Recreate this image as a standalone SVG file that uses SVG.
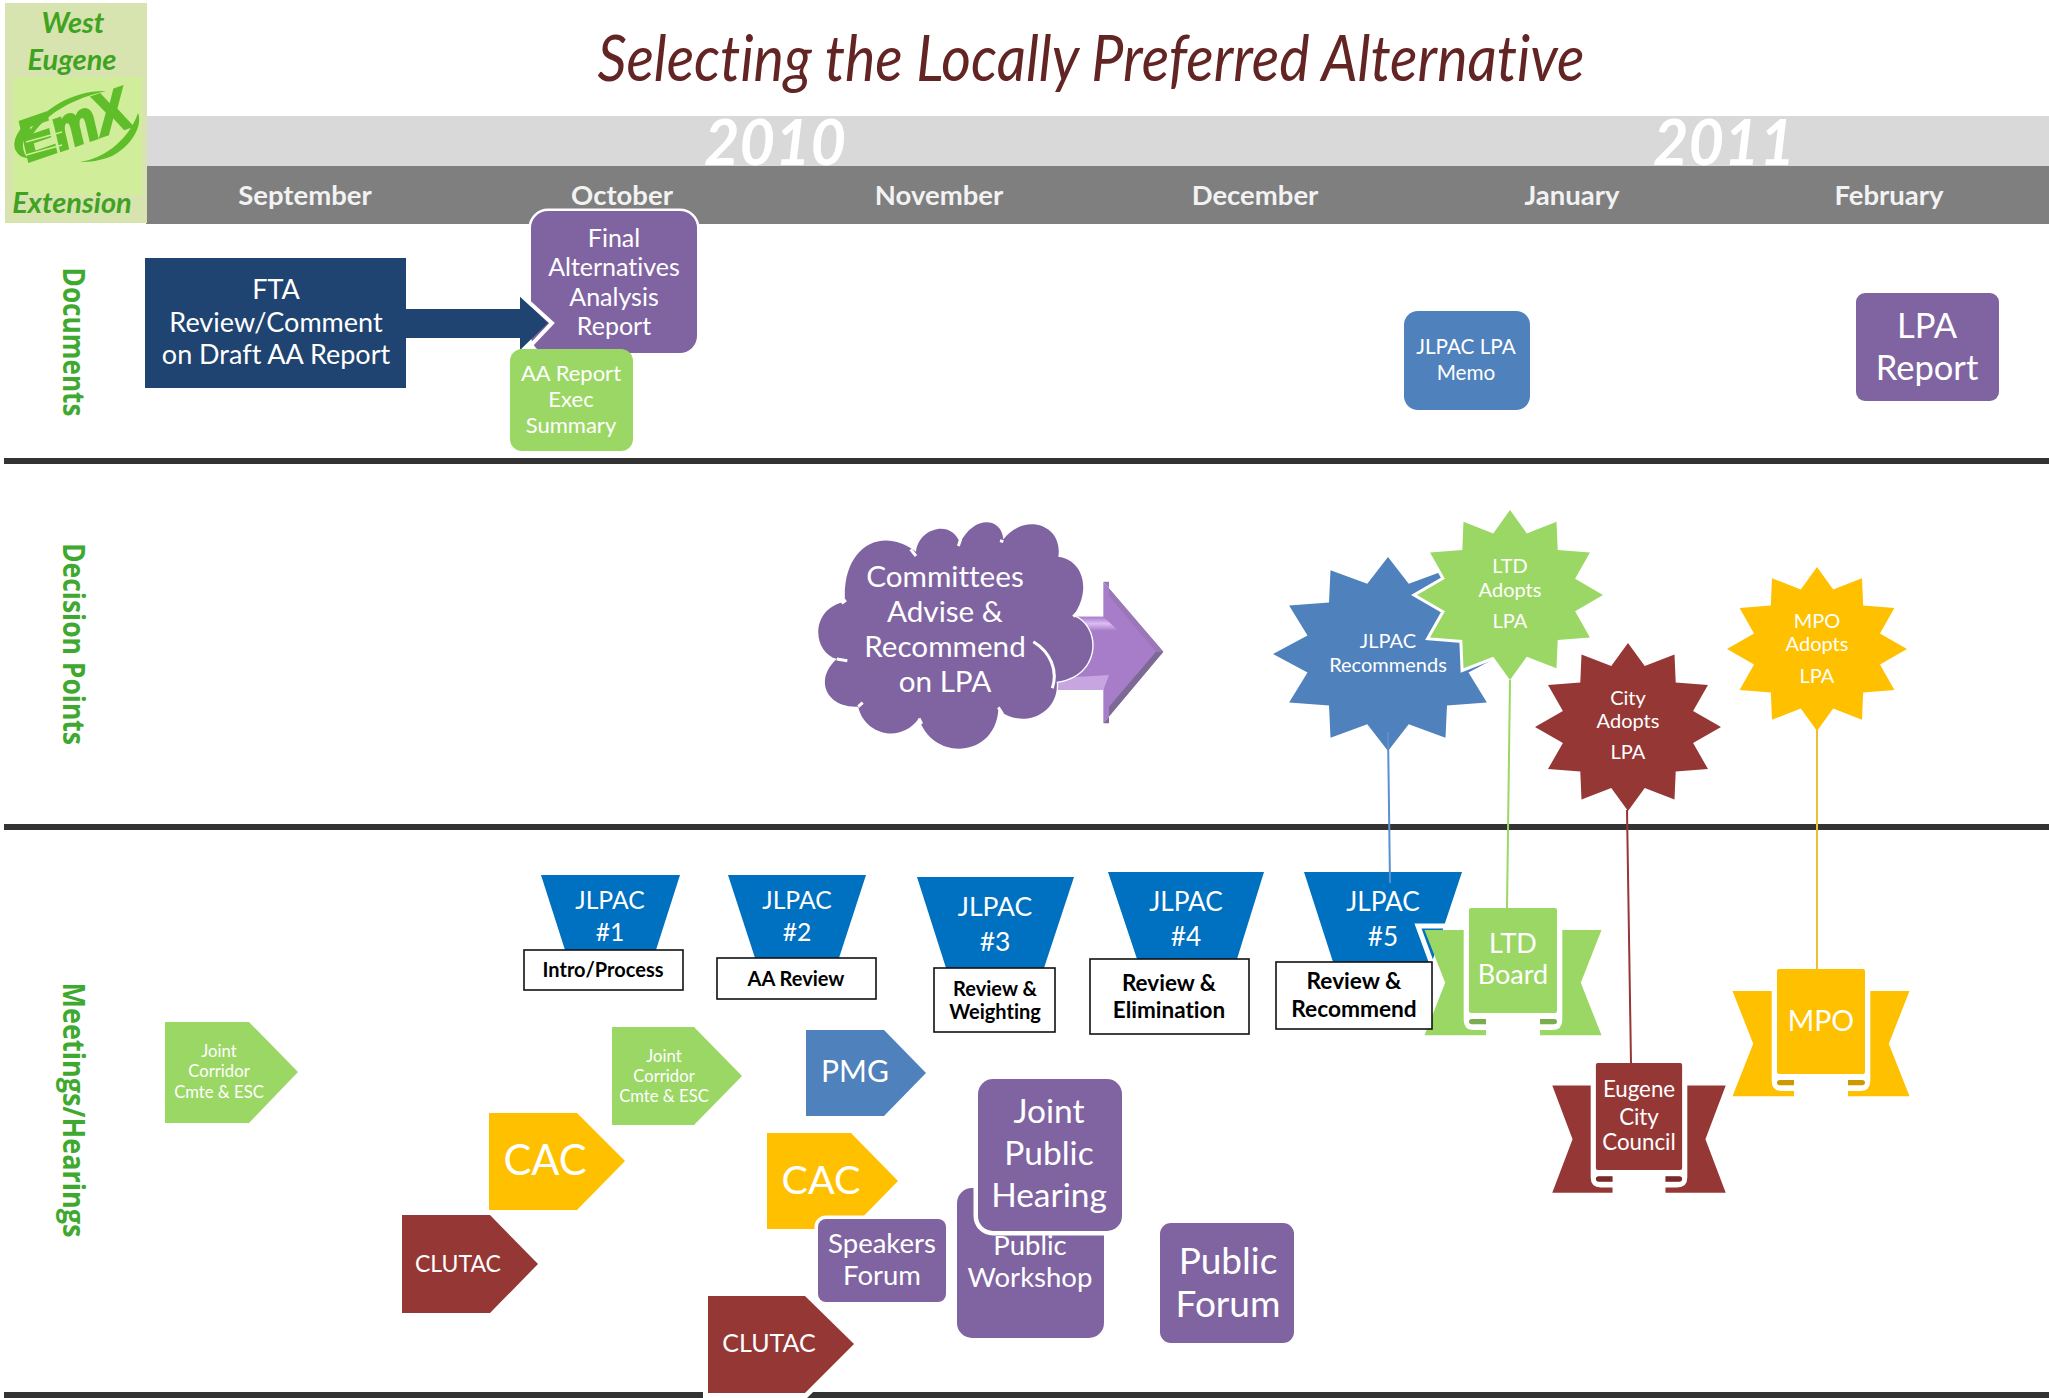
<svg xmlns="http://www.w3.org/2000/svg" xmlns:xlink="http://www.w3.org/1999/xlink" width="2049" height="1398" viewBox="0 0 2049 1398">
<style>
text{font-family:Lato,"Open Sans",sans-serif;text-anchor:middle;fill:#fff;font-variant-ligatures:none}
.b{fill:#000;font-weight:700}
.m{font-weight:700;font-size:27.5px;fill:#f2f2f2}
.g{fill:#3fa31f;font-weight:700;font-style:italic;font-size:29px}
.s{font-family:"Open Sans",sans-serif;fill:#3fa92f;font-weight:700;font-size:30px}
.y{font-weight:700;font-style:italic;font-size:64px}
.sep{fill:#333}
.p{fill:#8064a2}.v{fill:#9bd765}.bl{fill:#4f81bd}.o{fill:#ffc000}.r{fill:#953735}.t{fill:#0070c0}
.box{fill:#fff;stroke:#111;stroke-width:1.6}
.w{stroke:#fff;paint-order:stroke}
.c{fill:none;stroke-width:2}
</style>
<defs>
<polygon id="star" points="0,-1 .18,-.725 .5,-.863 .513,-.53 .86,-.5 .7,-.19 1,0 .7,.19 .86,.5 .513,.53 .5,.863 .18,.725 0,1 -.18,.725 -.5,.863 -.513,.53 -.86,.5 -.7,.19 -1,0 -.7,-.19 -.86,-.5 -.513,-.53 -.5,-.863 -.18,-.725" vector-effect="non-scaling-stroke"/>
<g id="ribbon">
<path d="M-88.5,22H-49.3V112Q-49.3,122-39,122H-27V127.3H-88.5L-67.8,74.7Z"/>
<path d="M88.5,22H49.3V112Q49.3,122 39,122H27V127.3H88.5L67.8,74.7Z"/>
<rect x="-44" y="0" width="88" height="105" rx="2"/>
<path d="M-27,111H-41Q-44,111-44,113.5Q-44,116.3-41,116.3H-27ZM27,111H41Q44,111 44,113.5Q44,116.3 41,116.3H27Z"/>
<path d="M-27,111H-41Q-44,111-44,113.5Q-44,116.3-41,116.3H-27ZM27,111H41Q44,111 44,113.5Q44,116.3 41,116.3H27Z" fill="#000" opacity=".2"/>
</g>
<linearGradient id="shaft" x1="0" y1="0" x2="0" y2="1"><stop offset="0" stop-color="#a77dc9"/><stop offset=".5" stop-color="#dcbcf4"/><stop offset="1" stop-color="#a77dc9"/></linearGradient>
</defs>

<g id="header">
<rect x="146" y="116" width="1903" height="50" fill="#d9d9d9"/>
<rect x="146" y="166" width="1903" height="58" fill="#7f7f7f"/>
<text x="775" y="165" class="y" textLength="142" lengthAdjust="spacingAndGlyphs">2010</text>
<text x="1724" y="165" class="y" textLength="142" lengthAdjust="spacingAndGlyphs">2011</text>
<text x="305" y="205" class="m">September</text>
<text x="622" y="205" class="m">October</text>
<text x="939" y="205" class="m">November</text>
<text x="1255" y="205" class="m">December</text>
<text x="1572" y="205" class="m">January</text>
<text x="1889" y="205" class="m">February</text>
<text x="1091" y="81" font-size="64" font-style="italic" style="fill:#632523" textLength="987" lengthAdjust="spacingAndGlyphs">Selecting the Locally Preferred Alternative</text>
</g>

<g id="logo">
<rect x="5" y="3" width="142" height="220" fill="#d7e4b0"/>
<rect x="13" y="77" width="129" height="118" fill="#d0ee9a"/>
<path d="M106,91C75,90 42,108 28,134L33,134C48,112 75,98 106,91Z" fill="#5fbe2a"/>
<path d="M35,116C18,127 11,142 16,151C19,156 23,158 28,158C20,150 21,134 35,116Z" fill="#5fbe2a"/>
<path d="M80,162C107,158 130,137 138,113C143,125 132,146 112,156C100,161 90,162 80,162Z" fill="#5fbe2a"/>
<text transform="translate(27,162) rotate(-19) skewX(-6)" x="55" y="0" font-size="58" font-weight="700" stroke="#5fbe2a" stroke-width="3" style="font-family:'Liberation Sans',sans-serif;fill:#5fbe2a" textLength="112" lengthAdjust="spacingAndGlyphs">EmX</text>
<path d="M26,142L62,132M26,155L62,145" stroke="#d0ee9a" stroke-width="1.500" fill="none"/>
<text x="73" y="33" class="g">West</text>
<text x="72" y="70" class="g">Eugene</text>
<text x="72" y="213" class="g">Extension</text>
</g>

<g id="rows">
<text transform="translate(63,342) rotate(90)" class="s" textLength="149" lengthAdjust="spacingAndGlyphs">Documents</text>
<text transform="translate(63,644) rotate(90)" class="s" textLength="202" lengthAdjust="spacingAndGlyphs">Decision Points</text>
<text transform="translate(63,1110) rotate(90)" class="s" textLength="255" lengthAdjust="spacingAndGlyphs">Meetings/Hearings</text>
<rect x="4" y="458" width="2045" height="6" class="sep"/>
<rect x="4" y="824" width="2045" height="6" class="sep"/>
<rect x="4" y="1392" width="2045" height="6" class="sep"/>
</g>

<g id="final-aa">
<rect x="531" y="211" width="166" height="142" rx="17" class="p w" stroke-width="5"/>
<text x="614" y="247" font-size="25">Final</text><text x="614" y="276" font-size="25">Alternatives</text><text x="614" y="306" font-size="25">Analysis</text><text x="614" y="335" font-size="25">Report</text>
</g>
<g id="fta">
<path d="M145,258H406V309H520V296L548,323L520,350V338H406V388H145Z" fill="#1f4471"/>
<path d="M520,294L552,323L517,360" fill="none" stroke="#fff" stroke-width="4"/>
<text x="276" y="299" font-size="27">FTA</text><text x="276" y="332" font-size="27">Review/Comment</text><text x="276" y="364" font-size="27">on Draft AA Report</text>
</g>
<g id="aa-exec">
<rect x="510" y="349" width="123" height="102" rx="12" class="v"/>
<text x="571" y="381" font-size="22">AA Report</text><text x="571" y="407" font-size="22">Exec</text><text x="571" y="433" font-size="22">Summary</text>
</g>
<g id="jlpac-memo">
<rect x="1404" y="311" width="126" height="99" rx="14" class="bl"/>
<text x="1466" y="354" font-size="20.700">JLPAC LPA</text><text x="1466" y="380" font-size="20.700">Memo</text>
</g>
<g id="lpa-report">
<rect x="1856" y="293" width="143" height="108" rx="9" class="p"/>
<text x="1927" y="338" font-size="34.500">LPA</text><text x="1927" y="380" font-size="34.500">Report</text>
</g>

<g id="lpa-arrow" transform="translate(810,510) scale(.33333)">
<path d="M700,320H880V215L1060,425L880,640V535H700Z" fill="#a77dc9"/>
<path d="M880,215L1060,425H1038L897,258V215Z" fill="#9a78b8"/>
<path d="M880,640L1060,425H1038L897,590V640Z" fill="#7d6a94"/>
<path d="M780,320H880L925,362H780Z" fill="url(#shaft)"/>
<path d="M740,505L897,495L880,540H740Z" fill="#c6a5e0"/>
</g>
<g id="cloud" transform="translate(810,510) scale(.33333)">
<path d="M105,275C95,115 210,45 318,125C325,55 425,25 450,100C490,15 575,20 580,88C645,5 760,45 745,140C820,150 845,240 790,318C875,350 870,500 740,515C750,610 640,660 565,600C555,745 365,755 327,625C270,705 160,670 145,590C50,595 10,510 80,447C5,425 0,295 105,275Z" class="p w" stroke-width="8"/>
<path d="M670,395C720,425 745,480 727,535M790,320L815,295M95,280L108,270M80,447L112,452M145,590L158,578M327,625L335,642M565,592L578,612M302,118L318,138M452,88L445,108M580,95L570,92" fill="none" stroke="#fff" stroke-width="9"/>
<text x="405" y="230" font-size="89">Committees</text><text x="405" y="335" font-size="89">Advise &amp;</text><text x="405" y="440" font-size="89">Recommend</text><text x="405" y="545" font-size="89">on LPA</text>
</g>

<g id="star-jlpac">
<use xlink:href="#star" href="#star" transform="translate(1388,654) scale(115,97)" class="bl"/>
<text x="1388" y="648" font-size="20">JLPAC</text><text x="1388" y="672" font-size="20">Recommends</text>
</g>
<g id="star-ltd">
<use xlink:href="#star" href="#star" transform="translate(1510,595) scale(93,85)" class="v w" stroke-width="6"/>
<text x="1510" y="573" font-size="20">LTD</text><text x="1510" y="597" font-size="20">Adopts</text><text x="1510" y="628" font-size="20">LPA</text>
</g>
<g id="star-city">
<use xlink:href="#star" href="#star" transform="translate(1628,727) scale(93,84)" class="r"/>
<text x="1628" y="705" font-size="20">City</text><text x="1628" y="728" font-size="20">Adopts</text><text x="1628" y="759" font-size="20">LPA</text>
</g>
<g id="star-mpo">
<use xlink:href="#star" href="#star" transform="translate(1817,649) scale(90,82)" class="o"/>
<text x="1817" y="628" font-size="20">MPO</text><text x="1817" y="651" font-size="20">Adopts</text><text x="1817" y="683" font-size="20">LPA</text>
</g>

<g id="jlpac1">
<polygon points="541,875 680,875 656,950 565,950" class="t"/>
<text x="610" y="909" font-size="24.700">JLPAC</text><text x="610" y="941" font-size="24.700">#1</text>
<rect x="524" y="950" width="159" height="40" class="box"/><text x="603" y="977" font-size="20" class="b">Intro/Process</text>
</g>
<g id="jlpac2">
<polygon points="728,875 866,875 839,958 755,958" class="t"/>
<text x="797" y="909" font-size="24.700">JLPAC</text><text x="797" y="941" font-size="24.700">#2</text>
<rect x="717" y="958" width="159" height="41" class="box"/><text x="796" y="986" font-size="20" class="b">AA Review</text>
</g>
<g id="jlpac3">
<polygon points="917,877 1074,877 1044,968 946,968" class="t"/>
<text x="995" y="916" font-size="26.500">JLPAC</text><text x="995" y="951" font-size="26.500">#3</text>
<rect x="934" y="968" width="121" height="64" class="box"/><text x="995" y="996" font-size="20" class="b">Review &amp;</text><text x="995" y="1019" font-size="20" class="b">Weighting</text>
</g>
<g id="jlpac4">
<polygon points="1108,872 1264,872 1237,959 1137,959" class="t"/>
<text x="1186" y="911" font-size="26.200">JLPAC</text><text x="1186" y="946" font-size="26.200">#4</text>
<rect x="1090" y="959" width="159" height="75" class="box"/><text x="1169" y="991" font-size="22.500" class="b">Review &amp;</text><text x="1169" y="1018" font-size="22.500" class="b">Elimination</text>
</g>
<g id="jlpac5">
<polygon points="1304,872 1462,872 1432,962 1333,962" class="t"/>
<text x="1383" y="911" font-size="26.200">JLPAC</text><text x="1383" y="946" font-size="26.200">#5</text>
</g>
<g id="ltd-board">
<path d="M1445,926H1418L1436,975" stroke="#fff" stroke-width="5" fill="none"/>
<use xlink:href="#ribbon" href="#ribbon" transform="translate(1513,908)" class="v"/>
<text x="1513" y="953" font-size="27">LTD</text><text x="1513" y="984" font-size="27">Board</text>
</g>
<g id="jlpac5-label">
<rect x="1276" y="962" width="156" height="67" class="box"/><text x="1354" y="989" font-size="22.700" class="b">Review &amp;</text><text x="1354" y="1017" font-size="22.700" class="b">Recommend</text>
</g>
<g id="city-council">
<use xlink:href="#ribbon" href="#ribbon" transform="translate(1639,1063) scale(.98,1.02)" class="r"/>
<text x="1639" y="1097" font-size="22.300">Eugene</text><text x="1639" y="1125" font-size="22.300">City</text><text x="1639" y="1150" font-size="22.300">Council</text>
</g>
<g id="mpo">
<use xlink:href="#ribbon" href="#ribbon" transform="translate(1821,969)" class="o"/>
<text x="1821" y="1031" font-size="28.500">MPO</text>
</g>

<g id="jc1">
<polygon points="165,1022 249,1022 298,1072 249,1123 165,1123" class="v"/>
<text x="219" y="1057" font-size="16.700">Joint</text><text x="219" y="1077" font-size="16.700">Corridor</text><text x="219" y="1098" font-size="16.700">Cmte &amp; ESC</text>
</g>
<g id="jc2">
<polygon points="612,1027 694,1027 742,1076 694,1125 612,1125" class="v"/>
<text x="664" y="1062" font-size="16.700">Joint</text><text x="664" y="1082" font-size="16.700">Corridor</text><text x="664" y="1102" font-size="16.700">Cmte &amp; ESC</text>
</g>
<g id="pmg">
<polygon points="806,1030 884,1030 926,1073 884,1116 806,1116" class="bl"/>
<text x="855" y="1082" font-size="30">PMG</text>
</g>
<g id="cac1">
<polygon points="489,1113 577,1113 625,1161 577,1210 489,1210" class="o"/>
<text x="545" y="1175" font-size="41.700">CAC</text>
</g>
<g id="cac2">
<polygon points="767,1133 851,1133 898,1181 851,1229 767,1229" class="o"/>
<text x="821" y="1194" font-size="39.600">CAC</text>
</g>
<g id="clutac1">
<polygon points="402,1215 490,1215 538,1264 490,1313 402,1313" class="r"/>
<text x="458" y="1272" font-size="23">CLUTAC</text>
</g>
<g id="clutac2">
<polygon points="708,1296 805,1296 854,1344 805,1393 708,1393" class="r w" stroke-width="10"/>
<text x="769" y="1352" font-size="25">CLUTAC</text>
</g>
<g id="public-workshop">
<rect x="957" y="1188" width="147" height="150" rx="15" class="p"/>
<text x="1030" y="1255" font-size="27.500">Public</text><text x="1030" y="1287" font-size="27.500">Workshop</text>
</g>
<g id="joint-hearing">
<rect x="978" y="1079" width="144" height="152" rx="15" class="p w" stroke-width="9"/>
<text x="1049" y="1123" font-size="33.500">Joint</text><text x="1049" y="1165" font-size="33.500">Public</text><text x="1049" y="1207" font-size="33.500">Hearing</text>
</g>
<g id="speakers">
<rect x="818" y="1219" width="128" height="83" rx="8" class="p w" stroke-width="7"/>
<text x="882" y="1253" font-size="27.500">Speakers</text><text x="882" y="1285" font-size="27.500">Forum</text>
</g>
<g id="public-forum">
<rect x="1160" y="1223" width="134" height="120" rx="11" class="p"/>
<text x="1228" y="1274" font-size="37">Public</text><text x="1228" y="1317" font-size="37">Forum</text>
</g>

<g id="connectors">
<path d="M1388,732L1390,883" class="c" stroke="#5b8fd0"/>
<path d="M1510,680L1507,908" class="c" stroke="#9bd765"/>
<path d="M1627,810L1631,1063" class="c" stroke="#953735"/>
<path d="M1817,730V969" class="c" stroke="#f0bd30"/>
</g>
</svg>
